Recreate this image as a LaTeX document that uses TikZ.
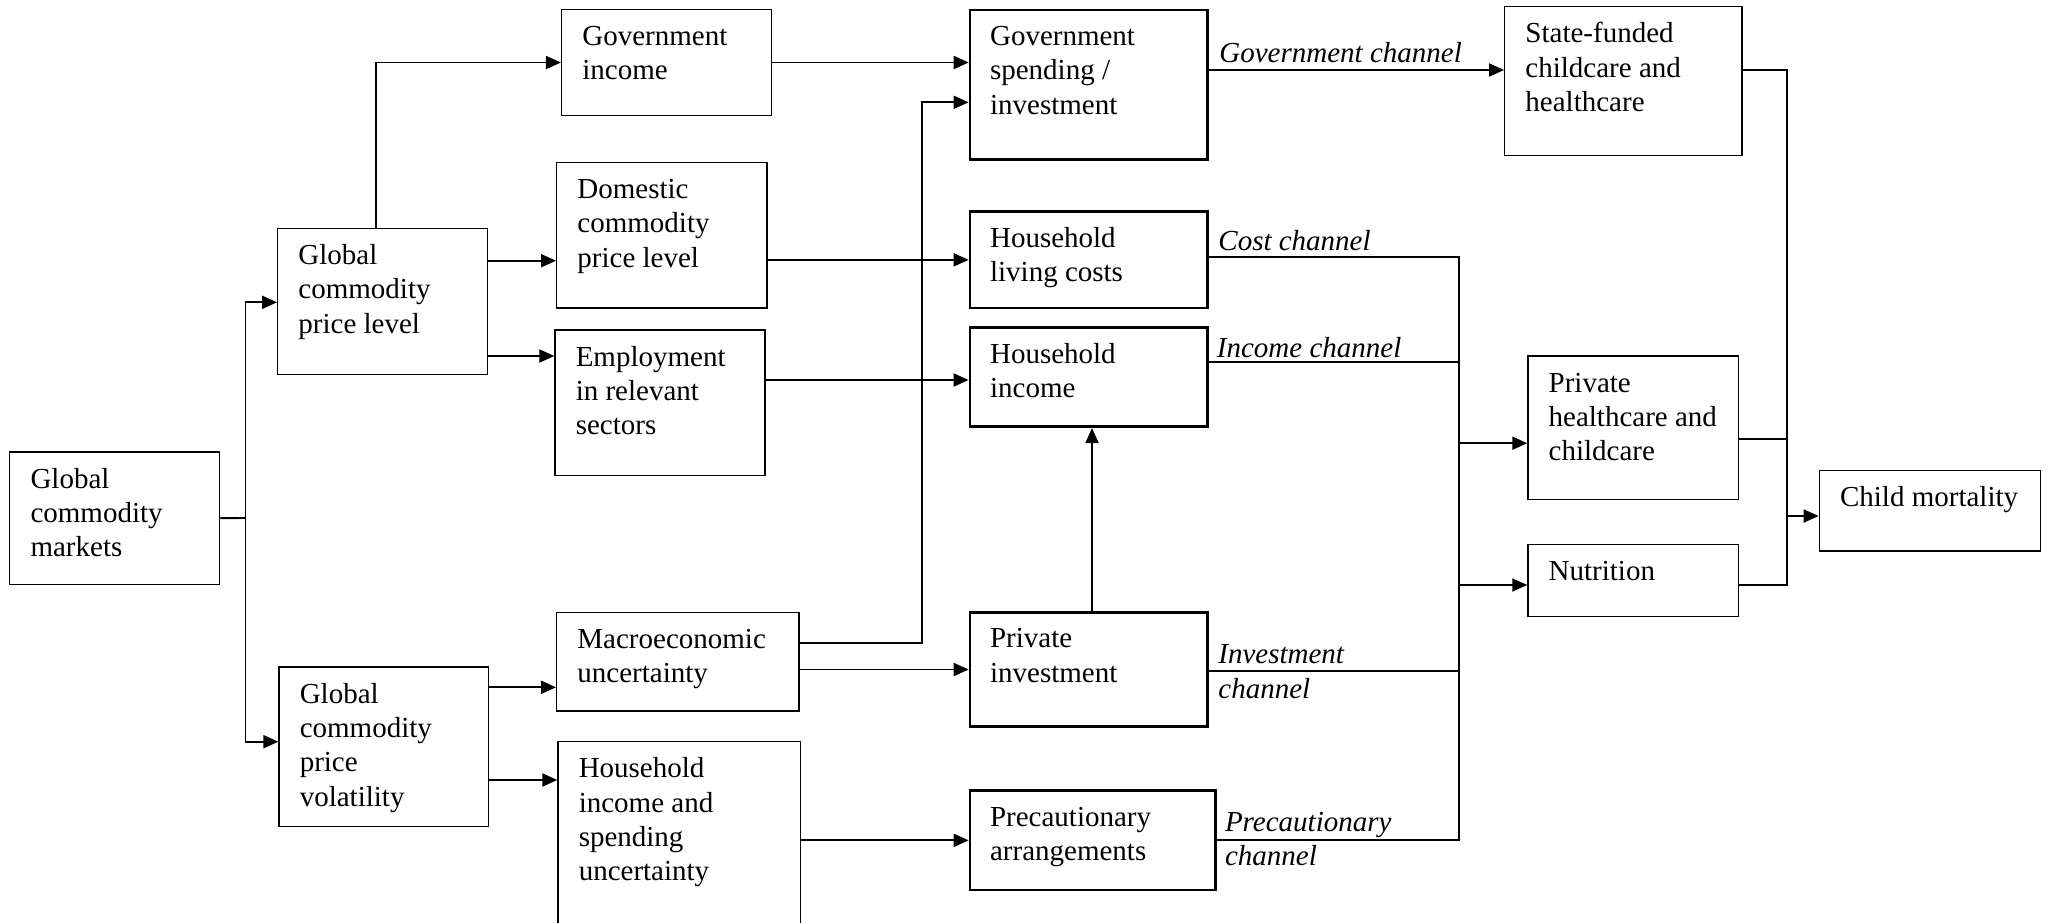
\documentclass[tikz,border=0pt]{standalone}
\usepackage{fontspec}
\setmainfont{Liberation Serif}
\usetikzlibrary{arrows.meta,fit}
\newcommand\mybox[7]{%
  \node[#1, fit={(#3,#4) (#5,#6)}] (#2) {};
  \node[txt] (#2-t) at ([shift={(21,12.5)}]#2.north west) {\strut #7};
}
\begin{document}
\begin{tikzpicture}[x=0.5pt,y=-0.5pt,
  thinbox/.style={draw, line width=0.65pt, inner sep=0pt},
  thickbox/.style={draw, line width=1.35pt, inner sep=0pt},
  txt/.style={anchor=north west, inner sep=0pt, align=left, font=\fontsize{14.5}{17.15}\selectfont},
  chan/.style={anchor=north west, inner sep=0pt, align=left, font=\fontsize{14.5}{17.15}\selectfont\itshape},
  arr/.style={line width=0.95pt, -{Triangle[length=7.5pt,width=6.5pt]}},
  ln/.style={line width=0.95pt},
]
\useasboundingbox (0,0) rectangle (2049,922);
\clip (0,0) rectangle (2049,922);

% boxes
\mybox{thinbox}{gcm}{9.8}{452}{219.6}{584.3}{Global\\commodity\\markets}
\mybox{thinbox}{gcpl}{277.7}{228.3}{487.5}{374.3}{Global\\commodity\\price level}
\mybox{thinbox}{gcpv}{279}{667}{488.8}{826.7}{Global\\commodity\\price\\volatility}
\mybox{thinbox}{gi}{561.6}{9.3}{771.4}{115.7}{Government\\income}
\mybox{thinbox}{dom}{556.7}{162.3}{767}{308}{Domestic\\commodity\\price level}
\mybox{thinbox}{emp}{555}{330}{765}{475.7}{Employment\\in relevant\\sectors}
\mybox{thinbox}{mac}{556.7}{612.3}{799}{711}{Macroeconomic\\uncertainty}
\mybox{thinbox}{hhu}{558}{741.7}{800.4}{945}{Household\\income and\\spending\\uncertainty}
\mybox{thickbox}{gs}{970}{10}{1207.6}{159.3}{Government\\spending /\\investment}
\mybox{thickbox}{hl}{970}{211.7}{1207.6}{308}{Household\\living costs}
\mybox{thickbox}{hi}{970}{327.7}{1207.6}{426.7}{Household\\income}
\mybox{thickbox}{pi}{970}{612.3}{1207.6}{726.7}{Private\\investment}
\mybox{thickbox}{pr}{970}{790.7}{1215.6}{890}{Precautionary\\arrangements}
\mybox{thinbox}{sf}{1504.7}{6.5}{1741.9}{155.4}{State-funded\\childcare and\\healthcare}
\mybox{thinbox}{ph}{1527.9}{355.9}{1738.6}{499.8}{Private\\healthcare and\\childcare}
\mybox{thinbox}{nut}{1527.9}{544.6}{1738.6}{616.7}{Nutrition}
\mybox{thinbox}{cm}{1819.3}{470.7}{2040.3}{551.1}{Child mortality}

% channel labels
\node[chan] (lg) at (1219,37.7) {\strut Government channel};
\node[chan] (lc) at (1218,226) {\strut Cost channel};
\node[chan] (lic) at (1216.5,333) {\strut Income channel};
\node[chan] (linv) at (1218,639.3) {\strut Investment\\channel};
\node[chan] (lp) at (1224.6,807) {\strut Precautionary\\channel};

% helper coordinates
\coordinate (tr) at (245.5,518);
\coordinate (yGCPL) at (0,302.3);
\coordinate (yGCPV) at (0,741.7);
\coordinate (xUp) at (376,0);
\coordinate (yD) at (0,260.7);
\coordinate (yE) at (0,356);
\coordinate (yHI) at (0,380);
\coordinate (yM1) at (0,643.3);
\coordinate (xM) at (921.9,0);
\coordinate (yGS2) at (0,102.3);
\coordinate (xPI) at (1092,0);
\coordinate (yV1) at (0,687.3);
\coordinate (yV2) at (0,780);
\coordinate (yG) at (0,70);
\coordinate (xC) at (1458.8,0);
\coordinate (yC1) at (0,257.3);
\coordinate (yC2) at (0,362);
\coordinate (yC3) at (0,670.7);
\coordinate (yC5) at (0,840);
\coordinate (yPH) at (0,443.2);
\coordinate (yN) at (0,585);
\coordinate (xR) at (1787,0);
\coordinate (yPH2) at (0,439);
\coordinate (yCM) at (0,516);

% connectors
\draw[ln] (gcm.east) -- (tr);
\draw[arr] (tr) -- (tr |- yGCPL) -- (gcpl.west |- yGCPL);
\draw[arr] (tr) -- (tr |- yGCPV) -- (gcpv.west |- yGCPV);
\draw[arr] (xUp |- gcpl.north) -- (xUp |- gi.west) -- (gi.west);
\draw[arr] (gcpl.east |- yD) -- (dom.west |- yD);
\draw[arr] (gcpl.east |- yE) -- (emp.west |- yE);
\draw[arr] (gi.east) -- (gi.east -| gs.west);
\draw[arr] (dom.east |- hl.west) -- (hl.west);
\draw[arr] (emp.east |- yHI) -- (hi.west |- yHI);
\draw[arr] (mac.east |- yM1) -- (xM |- yM1) -- (xM |- yGS2) -- (gs.west |- yGS2);
\draw[arr] (mac.east |- pi.west) -- (pi.west);
\draw[arr] (xPI |- pi.north) -- (xPI |- hi.south);
\draw[arr] (gcpv.east |- yV1) -- (mac.west |- yV1);
\draw[arr] (gcpv.east |- yV2) -- (hhu.west |- yV2);
\draw[arr] (hhu.east |- pr.west) -- (pr.west);
\draw[arr] (gs.east |- yG) -- (sf.west |- yG);
\draw[ln] (hl.east |- yC1) -- (xC |- yC1) -- (xC |- yC5) -- (pr.east |- yC5);
\draw[ln] (hi.east |- yC2) -- (xC |- yC2);
\draw[ln] (pi.east |- yC3) -- (xC |- yC3);
\draw[arr] (xC |- yPH) -- (ph.west |- yPH);
\draw[arr] (xC |- yN) -- (nut.west |- yN);
\draw[ln] (sf.east |- yG) -- (xR |- yG) -- (xR |- yN) -- (nut.east |- yN);
\draw[ln] (ph.east |- yPH2) -- (xR |- yPH2);
\draw[arr] (xR |- yCM) -- (cm.west |- yCM);
\end{tikzpicture}
\end{document}
